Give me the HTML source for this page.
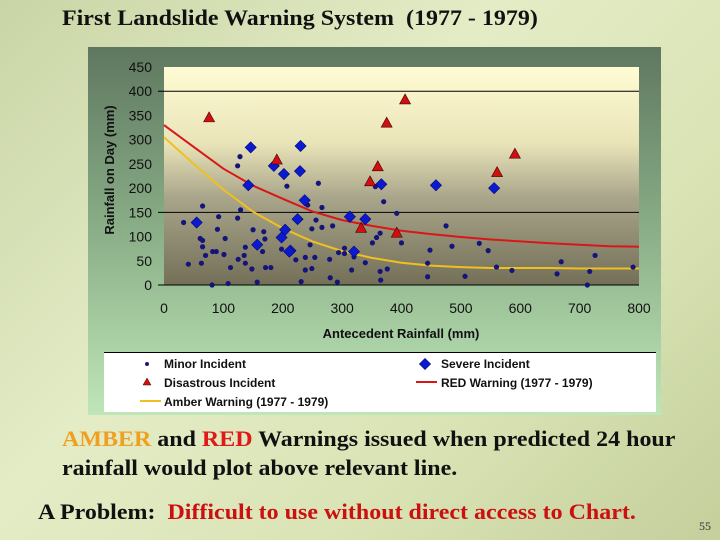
<!DOCTYPE html>
<html><head><meta charset="utf-8"><style>
body{margin:0;width:720px;height:540px;overflow:hidden;background:linear-gradient(135deg,#c9d5a6 0%,#e4ecc6 40%,#d9e3b4 70%,#c4cf9c 100%);position:relative;font-family:"Liberation Serif",serif}
.t{position:absolute;font-weight:bold;white-space:nowrap;transform-origin:0 0;transform:scaleX(1.09)}
</style></head><body>
<div class="t" style="left:62px;top:5px;font-size:22px;color:#111">First Landslide Warning System&nbsp; (1977 - 1979)</div>
<svg id="c" width="720" height="540" style="position:absolute;left:0;top:0" font-family="Liberation Sans, sans-serif">
<defs>
<linearGradient id="bg" x1="0" y1="0" x2="0" y2="1"><stop offset="0" stop-color="#5f7760"/><stop offset="0.45" stop-color="#85a983"/><stop offset="1" stop-color="#bfe6b8"/></linearGradient>
<linearGradient id="pa" x1="0" y1="0" x2="0" y2="1"><stop offset="0" stop-color="#fffbd4"/><stop offset="0.35" stop-color="#e9e4b8"/><stop offset="0.6" stop-color="#a9a58a"/><stop offset="1" stop-color="#747058"/></linearGradient>
</defs>
<rect x="88" y="47" width="573" height="368" fill="url(#bg)"/>
<rect x="164" y="67" width="475" height="218" fill="url(#pa)"/>
<g id="g"></g>
<text transform="translate(114,170) rotate(-90)" text-anchor="middle" font-size="13" font-weight="bold" fill="#111">Rainfall on Day (mm)</text>
<text x="401" y="338" text-anchor="middle" font-size="13" font-weight="bold" fill="#111">Antecedent Rainfall (mm)</text>
<rect x="104" y="352" width="552" height="60" fill="#fff"/>
<line x1="104" y1="352.5" x2="656" y2="352.5" stroke="#000"/>
<g><circle cx="147" cy="364" r="2" fill="#1a1a7a"/><text x="164" y="368" font-size="12" font-weight="bold" fill="#111">Minor Incident</text></g>
<g><rect x="-4" y="-4" width="8" height="8" transform="translate(425,364) rotate(45)" fill="#0a1ad0" stroke="#000060" stroke-width=".5"/><text x="441" y="368" font-size="12" font-weight="bold" fill="#111">Severe Incident</text></g>
<g><polygon points="147,378 151,385 143,385" fill="#d01010" stroke="#500" stroke-width=".5"/><text x="164" y="387" font-size="12" font-weight="bold" fill="#111">Disastrous Incident</text></g>
<g><line x1="416" y1="382" x2="437" y2="382" stroke="#d81818" stroke-width="2"/><text x="441" y="387" font-size="12" font-weight="bold" fill="#111">RED Warning (1977 - 1979)</text></g>
<g><line x1="140" y1="401" x2="161" y2="401" stroke="#f0c020" stroke-width="2"/><text x="164" y="406" font-size="12" font-weight="bold" fill="#111">Amber Warning (1977 - 1979)</text></g>
</svg>
<div class="t" style="left:62px;top:426px;font-size:22px;color:#111"><span style="color:#f0a020">AMBER</span> and <span style="color:#e01818">RED</span> Warnings issued when predicted 24 hour</div>
<div class="t" style="left:62px;top:455px;font-size:22px;color:#111">rainfall would plot above relevant line.</div>
<div class="t" style="left:38px;top:499px;font-size:22px;color:#111">A Problem:&nbsp; <span style="color:#cc1010">Difficult to use without direct access to Chart.</span></div>
<div class="t" style="left:699px;top:519px;font-size:12px;font-weight:normal;color:#333;transform:none">55</div>
<script>
const xTicks=[0,100,200,300,400,500,600,700,800];
const yTicks=[0,50,100,150,200,250,300,350,400,450];
const minorX=[33,41,65,61,65,65,70,63,82,88,90,92,103,101,112,108,81,124,128,124,129,125,135,137,137,148,150,157,168,170,171,180,166,198,207,222,238,238,231,242,246,249,249,254,260,266,266,256,279,280,284,292,294,304,304,316,320,339,351,358,364,356,370,364,365,376,392,400,475,485,448,444,444,507,531,546,560,586,662,669,713,717,726,790];
const minorY=[129,43,163,96,92,79,61,45,69,69,115,141,96,63,36,3,0,246,265,138,155,53,61,45,78,33,114,6,110,95,36,36,69,74,204,52,57,31,7,165,83,116,34,57,210,160,119,134,53,15,122,6,67,76,65,31,58,46,87,98,107,203,172,28,10,33,148,87,122,80,72,17,45,18,86,71,37,30,23,48,0,28,61,37];
const severeX=[55,142,146,157,185,202,198,204,213,211,230,229,237,225,313,320,339,366,458,556];
const severeY=[129,206,284,83,246,229,98,114,71,69,287,235,175,136,141,69,136,208,206,200];
const disX=[76,190,347,360,375,332,392,406,591,561];
const disY=[345,258,213,244,334,117,107,382,270,232];
const curveX=[0,50,100,150,200,250,300,350,400,450,500,550,600,650,700,750,800];
const redY=[330,285,240,205,178,152,134,122,112,105,99,94,90,86,83,80,79];
const amberY=[305,250,197,151,117,90,70,56,46,40,37,35,35,35,34,34,34];
const NS='http://www.w3.org/2000/svg';
const g=document.getElementById('g');
const sx=v=>164+v*475/800, sy=v=>285-v*218/450;
function mk(t,a){const e=document.createElementNS(NS,t);for(const k in a)e.setAttribute(k,a[k]);g.appendChild(e);return e;}
yTicks.forEach(v=>{
  if(v===150||v===400){const l=mk('line',{x1:158,x2:639,y1:sy(v),y2:sy(v),stroke:'#000','stroke-width':1});
  
  }
  const t=mk('text',{x:152,y:sy(v)+5,'text-anchor':'end','font-size':14,fill:'#111'});t.textContent=v;
  
  
});
const ax=mk('line',{x1:158,x2:639,y1:285,y2:285,stroke:'#000'});


xTicks.forEach(v=>{const t=mk('text',{x:sx(v),y:313,'text-anchor':'middle','font-size':14,fill:'#111'});t.textContent=v;
  
  });
function curve(ys,col,name){const d=curveX.map((x,i)=>(i?'L':'M')+sx(x).toFixed(1)+','+sy(ys[i]).toFixed(1)).join(' ');
  const p=mk('path',{d:d,fill:'none',stroke:col,'stroke-width':2});
  
  }
curve(amberY,'#f0c020','amber-warning-line');
curve(redY,'#d81818','red-warning-line');
minorX.forEach((x,i)=>{const c=mk('circle',{cx:sx(x),cy:sy(minorY[i]),r:2.6,fill:'#14147a'});
  
  });
severeX.forEach((x,i)=>{const r=mk('rect',{x:-4,y:-4,width:8,height:8,fill:'#0a1ad0',stroke:'#000060','stroke-width':.5,transform:`translate(${sx(x)},${sy(severeY[i])}) rotate(45)`});
  
  });
disX.forEach((x,i)=>{const X=sx(x),Y=sy(disY[i]);const p=mk('polygon',{points:`${X},${Y-6} ${X+5.5},${Y+4} ${X-5.5},${Y+4}`,fill:'#d01010',stroke:'#400','stroke-width':.6});
  
  });
</script>
</body></html>
